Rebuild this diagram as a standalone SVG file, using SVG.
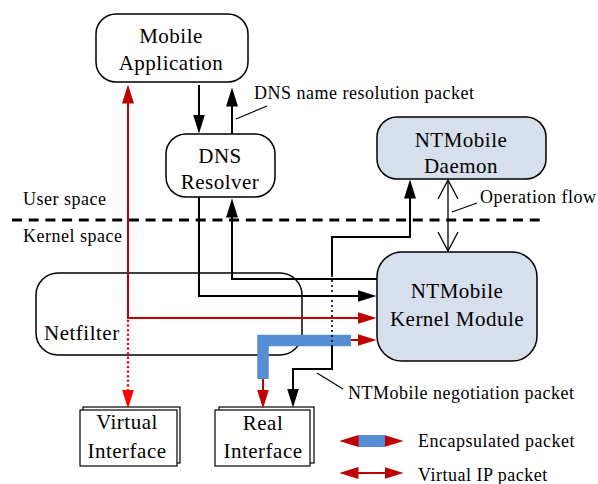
<svg xmlns="http://www.w3.org/2000/svg" width="598" height="484" viewBox="0 0 598 484" font-family="'Liberation Serif', 'Times New Roman', serif">
  <style>
    text { fill: #000; }
    .big { font-size: 21px; letter-spacing: 0.5px; text-anchor: middle; }
    .lbl { font-size: 18px; letter-spacing: 0.5px; }
    .box { fill: #fff; stroke: #000; stroke-width: 1.5; }
    .blue { fill: #d6dfeb; stroke: #000; stroke-width: 1.5; }
    .ifc { fill: #fff; stroke: #000; stroke-width: 1.2; }
    .blk { fill: none; stroke: #000; stroke-width: 2; }
    .red { fill: none; stroke: #c00000; stroke-width: 2; }
    .lead { fill: none; stroke: #000; stroke-width: 1.2; }
  </style>
  <defs>
    <marker id="ahBlack" viewBox="0 0 19 12" refX="0.5" refY="6" markerWidth="19" markerHeight="12" markerUnits="userSpaceOnUse" orient="auto-start-reverse">
      <path d="M0,0 L19,6 L0,12 z" fill="#000"/>
    </marker>
    <marker id="ahRed" viewBox="0 0 19 12" refX="0.5" refY="6" markerWidth="19" markerHeight="12" markerUnits="userSpaceOnUse" orient="auto-start-reverse">
      <path d="M0,0 L19,6 L0,12 z" fill="#c00000"/>
    </marker>
    <marker id="ahBright" viewBox="0 0 19 12" refX="0.5" refY="6" markerWidth="19" markerHeight="12" markerUnits="userSpaceOnUse" orient="auto-start-reverse">
      <path d="M0,0 L19,6 L0,12 z" fill="#ff0000"/>
    </marker>
    <marker id="ahOpen" viewBox="-1 -1 21 22" refX="19" refY="10" markerWidth="21" markerHeight="22" markerUnits="userSpaceOnUse" orient="auto-start-reverse">
      <path d="M0,0 L19,10 L0,20" fill="none" stroke="#000" stroke-width="1.3"/>
    </marker>
  </defs>

  <rect width="598" height="484" fill="#fff"/>

  <!-- user / kernel boundary -->
  <g id="boundary">
    <path d="M12,220 H540" fill="none" stroke="#000" stroke-width="3" stroke-dasharray="10 6.7"/>
    <text class="lbl" x="23" y="205">User space</text>
    <text class="lbl" x="23" y="242">Kernel space</text>
  </g>

  <g id="netfilter">
    <rect x="36" y="273" width="266" height="82" rx="22" fill="none" stroke="#000" stroke-width="1.5"/>
    <text class="big" x="44" y="340" style="text-anchor:start">Netfilter</text>
  </g>

  <g id="mobile-app">
    <rect class="box" x="96" y="14" width="152" height="68" rx="20"/>
    <text class="big" x="171" y="43">Mobile</text>
    <text class="big" x="171" y="70">Application</text>
  </g>

  <g id="dns-resolver">
    <rect class="box" x="166" y="134" width="109" height="63" rx="20"/>
    <text class="big" x="220" y="163">DNS</text>
    <text class="big" x="220" y="189">Resolver</text>
  </g>

  <g id="ntm-daemon">
    <rect class="blue" x="377" y="117" width="169" height="62" rx="20"/>
    <text class="big" x="461" y="147">NTMobile</text>
    <text class="big" x="461" y="173">Daemon</text>
  </g>

  <g id="ntm-kernel">
    <rect class="blue" x="377" y="252" width="160" height="109" rx="25"/>
    <text class="big" x="457" y="298">NTMobile</text>
    <text class="big" x="457" y="326">Kernel Module</text>
  </g>

  <g id="virtual-if">
    <rect class="ifc" x="83" y="407" width="97" height="56"/>
    <rect class="ifc" x="80" y="410" width="97" height="56"/>
    <text class="big" x="127" y="429">Virtual</text>
    <text class="big" x="127" y="458">Interface</text>
  </g>

  <g id="real-if">
    <rect class="ifc" x="219" y="407" width="95" height="56"/>
    <rect class="ifc" x="215" y="410" width="95" height="56"/>
    <text class="big" x="263" y="430">Real</text>
    <text class="big" x="263" y="458">Interface</text>
  </g>

  <g id="connectors">
    <!-- DNS query / response -->
    <path class="blk" d="M199,85 V115" marker-end="url(#ahBlack)"/>
    <path class="blk" d="M232,134 V106" marker-end="url(#ahBlack)"/>
    <!-- resolver to/from kernel module -->
    <path class="blk" d="M199,197 V296 H358" marker-end="url(#ahBlack)"/>
    <path class="blk" d="M377,279 H232 V217" marker-end="url(#ahBlack)"/>
    <!-- virtual IP packet path -->
    <path class="red" d="M128,103 V318 H358" marker-start="url(#ahRed)" marker-end="url(#ahRed)"/>
    <path d="M128,321 V388" fill="none" stroke="#ff0000" stroke-width="2.6" stroke-linecap="round" stroke-dasharray="0 4.6"/>
    <path d="M128,389 V390" fill="none" stroke="#ff0000" stroke-width="2" marker-end="url(#ahBright)"/>
    <!-- encapsulated packet -->
    <path d="M351,340.5 H263 V379" fill="none" stroke="#558ed5" stroke-width="11.5"/>
    <path class="red" d="M351,340 H358" marker-end="url(#ahRed)"/>
    <path class="red" d="M263,379 V390" marker-end="url(#ahRed)"/>
    <!-- negotiation packet path -->
    <path class="blk" d="M293,389 V369 H332 V346" marker-start="url(#ahBlack)"/>
    <path d="M332,346 V275" fill="none" stroke="#000" stroke-width="2.2" stroke-linecap="round" stroke-dasharray="0 5"/>
    <path class="blk" d="M332,275 V237 H410 V198" marker-end="url(#ahBlack)"/>
    <!-- operation flow -->
    <path d="M448,180 V251" fill="none" stroke="#000" stroke-width="1.3" marker-start="url(#ahOpen)" marker-end="url(#ahOpen)"/>
    <!-- callout leaders -->
    <path class="lead" d="M236,119 L267,106"/>
    <path class="lead" d="M452,212 L477,203"/>
    <path class="lead" d="M317,373 L343,389"/>
  </g>

  <g id="callouts">
    <text class="lbl" x="254" y="99">DNS name resolution packet</text>
    <text class="lbl" x="480" y="203">Operation flow</text>
    <text class="lbl" x="348" y="399">NTMobile negotiation packet</text>
  </g>

  <g id="legend">
    <path d="M358,441 H385" fill="none" stroke="#558ed5" stroke-width="12" marker-start="url(#ahRed)" marker-end="url(#ahRed)"/>
    <text class="lbl" x="418" y="447">Encapsulated packet</text>
    <path class="red" d="M358,473 H385" marker-start="url(#ahRed)" marker-end="url(#ahRed)"/>
    <text class="lbl" x="418" y="481">Virtual IP packet</text>
  </g>
</svg>
